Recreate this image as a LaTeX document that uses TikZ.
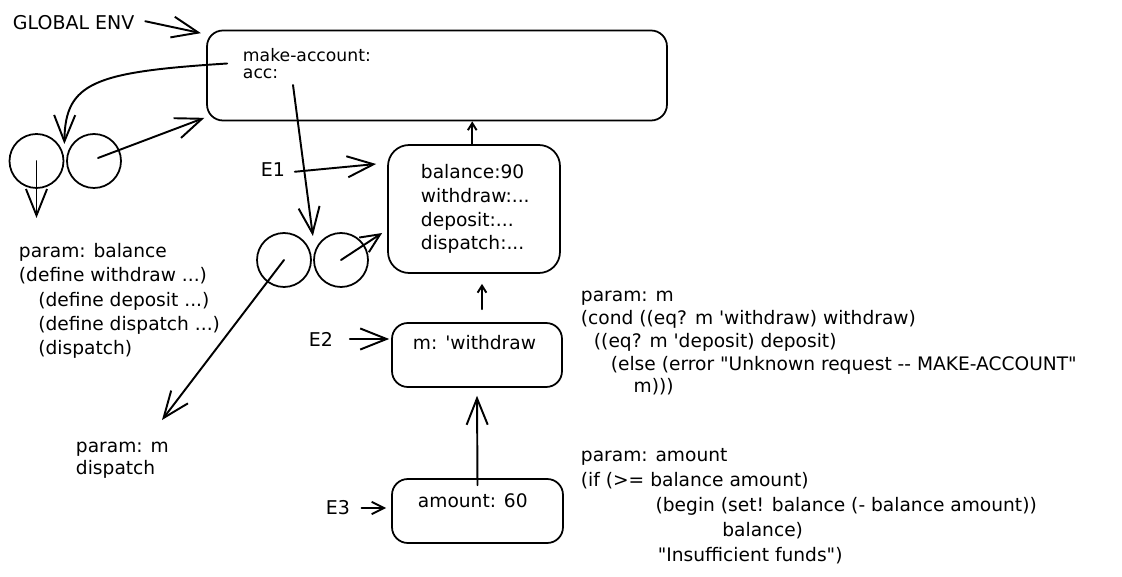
\documentclass[tikz,border=0pt]{standalone}
\usepackage{fontspec}
\setmainfont{DejaVu Sans}
\usetikzlibrary{arrows.meta,calc,positioning}

\begin{document}
\begin{tikzpicture}[x=0.02cm,y=-0.02cm,line width=1.1pt,line cap=round,line join=round,
  >={Straight Barb[length=15pt,width=12pt,line width=1.1pt]},
  envbox/.style={draw,line width=1pt,rounded corners=9pt,inner sep=0pt},
  proc/.style={draw,circle,minimum size=1.08cm,inner sep=0pt,line width=1pt},
  code/.style={font=\fontsize{10.6}{13.6}\selectfont,align=left,inner sep=0pt,anchor=base west},
  lbl/.style={font=\fontsize{10.8}{12}\selectfont,inner sep=0pt,anchor=west},
  mid/.style={-{Straight Barb[length=11pt,width=10pt,line width=1.1pt]}},
  sml/.style={-{Straight Barb[length=4pt,width=5pt,line width=1.1pt]}}]
\useasboundingbox (0,0) rectangle (1122,577);

% frames
\node[envbox,minimum width=9.2cm,minimum height=1.8cm] (global) at (437,75.5) {};
\node[envbox,minimum width=3.44cm,minimum height=2.56cm,rounded corners=12pt] (eone) at (474,209) {};
\node[envbox,minimum width=3.4cm,minimum height=1.28cm] (etwo) at (477,355) {};
\node[envbox,minimum width=3.42cm,minimum height=1.28cm] (ethree) at (477.5,511) {};

% bindings (base = last line)
\node[code,font=\fontsize{9.8}{10.2}\selectfont] (bindglobal) at (242,79) {make-account:\\acc:};
\node[code] (bindone) at (420,250) {balance:90\\withdraw:...\\deposit:...\\dispatch:...};
\node[code] (bindtwo) at (412,350) {m: \textquotesingle withdraw};
\node[code] (bindthree) at (417,507) {amount: 60};

% env labels
\node[lbl] (globallbl) at (12,23) {GLOBAL ENV};
\node[lbl] (eonelbl) at (260,170) {E1};
\node[lbl] (etwolbl) at (308,339) {E2};
\node[lbl] (ethreelbl) at (325,508) {E3};

% procedure objects
\node[proc] (procAl) at (36.5,161) {};
\node[proc] (procAr) at (94,161) {};
\node[proc] (procBl) at (284,260) {};
\node[proc] (procBr) at (341,260) {};

% procedure bodies
\node[code,font=\fontsize{10.6}{13.9}\selectfont] (bodyacc) at (18,355)
  {param: balance\\(define withdraw ...)\\\hspace*{11pt}(define deposit ...)\\\hspace*{11pt}(define dispatch ...)\\\hspace*{11pt}(dispatch)};
\node[code,font=\fontsize{10.6}{12}\selectfont] (bodydispatch) at (75,474) {param: m\\dispatch};
\node[code,font=\fontsize{10.6}{13}\selectfont] (bodycond) at (580,393)
  {param: m\\(cond ((eq? m \textquotesingle withdraw) withdraw)\\\hspace*{7.4pt}((eq? m \textquotesingle deposit) deposit)\\\hspace*{17pt}(else (error \textquotedbl Unknown request -\kern0pt- MAKE-ACCOUNT\textquotedbl\\\hspace*{30pt}m)))};
\node[code,font=\fontsize{10.6}{14.2}\selectfont] (bodywithdraw) at (580,561)
  {param: amount\\(if (>= balance amount)\\\hspace*{42.5pt}(begin (set! balance (- balance amount))\\\hspace*{80.5pt}balance)\\\hspace*{43.7pt}\textquotedbl Insufficient funds\textquotedbl)};

\coordinate (accptr) at (293,85);
\coordinate (dispatchptr) at (162,420);

% pointers
\draw[->] ([xshift=5.7pt,yshift=1pt]globallbl.east) -- ([xshift=-3pt,yshift=-2pt]global.north west);
\draw[->] ($(global.west)+(21,-12)$) .. controls (95,72) and (65,82) .. ($(procAl.east)+(0,-17)$);
\draw[->] (procAl.center) -- ++(0,57);
\draw[->] ([shift={(4,-3)}]procAr.center) -- ([xshift=-1pt,yshift=2pt]global.south west);
\draw[->] (accptr) -- ($(procBl.east)+(1,-24)$);
\draw[mid] (procBr.center) -- ($(eone.west)+(-5,24)$);
\draw[->] (procBl.center) -- (dispatchptr);

\draw[->] ([xshift=5pt,yshift=-1pt]eonelbl.east) -- ($(eone.west)+(-11,-45)$);
\draw[->] ([xshift=9pt]etwolbl.east) -- ($(etwo.west)+(-2,-16)$);
\draw[-{Straight Barb[length=7pt,width=7pt,line width=1.1pt]}] ([xshift=6pt]ethreelbl.east) -- ($(ethree.west)+(-5,-3)$);

\draw[sml] ([xshift=-1pt]eone.north) -- ([xshift=-1pt]eone.north |- global.south);
\draw[sml] ($(etwo.north)+(5,-13)$) -- ($(eone.south -| etwo.north)+(5,10)$);
\draw[->] ([yshift=-4pt]ethree.north) -- ([yshift=-4.5pt]etwo.south);
\end{tikzpicture}
\end{document}
